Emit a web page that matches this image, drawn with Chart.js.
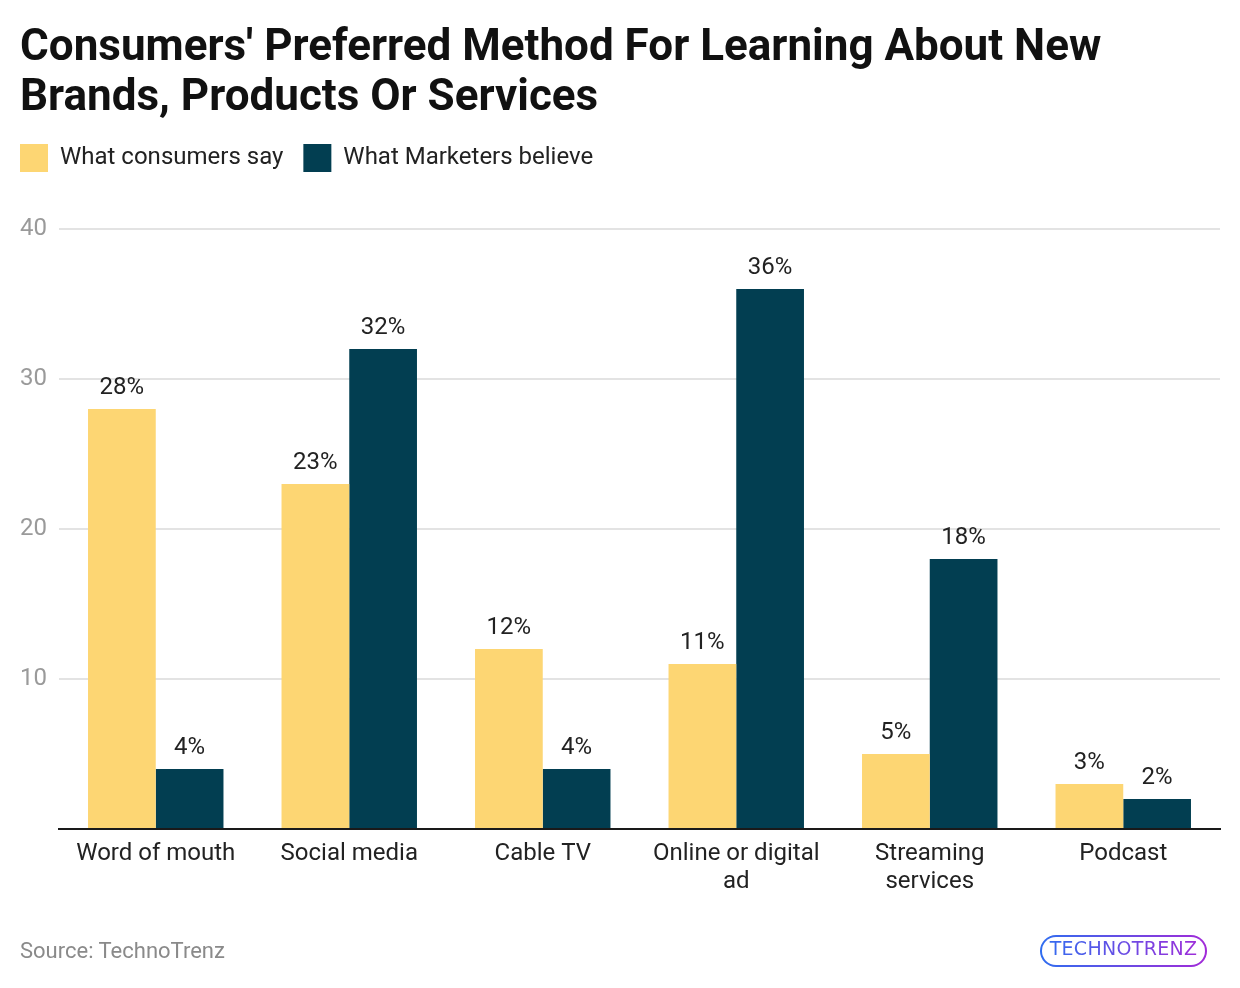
<!DOCTYPE html>
<html>
<head>
<meta charset="utf-8">
<script src="https://cdn.jsdelivr.net/npm/chart.js@4/dist/chart.umd.min.js"></script>
<style>
  html, body { margin: 0; padding: 0; background: #fff; }
  #wrap { position: relative; width: 1240px; height: 988px; }
  #source { position: absolute; left: 20px; top: 938px; font: 22px Roboto, sans-serif; color: #8a8a8a; }
  #logo { position: absolute; left: 1040px; top: 935px; width: 167px; height: 32px; border-radius: 16px;
          border: 2px solid transparent; box-sizing: border-box;
          background: linear-gradient(#fff, #fff) padding-box, linear-gradient(90deg, #2f6df0, #a22ad8) border-box; }
  #logo span { display: block; width: 100%; text-align: center; line-height: 28px;
          font: 500 19px "DejaVu Sans", sans-serif; letter-spacing: 0.3px;
          background: linear-gradient(90deg, #2f6df0, #a22ad8); -webkit-background-clip: text; background-clip: text; color: transparent; }
</style>
</head>
<body>
<div id="wrap">
  <canvas id="c" width="1240" height="988"></canvas>
  <div id="source">Source: TechnoTrenz</div>
  <div id="logo"><span>TECHNOTRENZ</span></div>
</div>
<script>
const categories = ["Word of mouth", "Social media", "Cable TV", ["Online or digital", "ad"], ["Streaming", "services"], "Podcast"];
const consumersSay = [28, 23, 12, 11, 5, 3];
const marketersBelieve = [4, 32, 4, 36, 18, 2];
const yTicks = [0, 10, 20, 30, 40];
const seriesNames = ["What consumers say", "What Marketers believe"];
const titleLines = ["Consumers' Preferred Method For Learning About New", "Brands, Products Or Services"];

const valueLabels = {
  id: 'valueLabels',
  afterDatasetsDraw(chart) {
    const ctx = chart.ctx;
    ctx.save();
    ctx.font = '24px Roboto, sans-serif';
    ctx.fillStyle = '#222';
    ctx.textAlign = 'center';
    ctx.textBaseline = 'alphabetic';
    chart.data.datasets.forEach((ds, i) => {
      chart.getDatasetMeta(i).data.forEach((bar, j) => {
        ctx.fillText(ds.data[j] + '%', bar.x, bar.y - 15);
      });
    });
    ctx.restore();
  }
};

const legendSpacing = {
  id: 'legendSpacing',
  beforeInit(chart) {
    const orig = chart.legend.fit;
    chart.legend.fit = function () {
      orig.bind(chart.legend)();
      this.height += 47;
    };
  },
  beforeDraw(chart) {
    const lg = chart.legend;
    if (!lg._shifted) {
      lg.left -= 20; lg.right -= 20; lg._shifted = true;
    }
  }
};

new Chart(document.getElementById('c'), {
  type: 'bar',
  data: {
    labels: categories,
    datasets: [
      { label: seriesNames[0], data: consumersSay, backgroundColor: '#fdd673', categoryPercentage: 0.7, barPercentage: 1.0 },
      { label: seriesNames[1], data: marketersBelieve, backgroundColor: '#023e51', categoryPercentage: 0.7, barPercentage: 1.0 }
    ]
  },
  options: {
    responsive: false,
    animation: false,
    layout: { padding: { left: 20, right: 20, top: 24, bottom: 89 } },
    plugins: {
      title: {
        display: true, text: titleLines, align: 'start', color: '#111',
        font: { family: 'Roboto', weight: 'bold', size: 44, lineHeight: 50 / 44 },
        padding: { top: 0, bottom: 0 }
      },
      legend: {
        display: true, align: 'start',
        labels: { boxWidth: 28, boxHeight: 28, color: '#222', padding: 20,
                  font: { family: 'Roboto', size: 24 } }
      },
      tooltip: { enabled: false }
    },
    scales: {
      x: {
        grid: { display: false },
        border: { color: '#1a1a1a', width: 2 },
        ticks: { color: '#222', font: { family: 'Roboto', size: 24, lineHeight: 28 / 24 }, padding: 3, maxRotation: 0, autoSkip: false }
      },
      y: {
        min: 0, max: 40,
        afterBuildTicks(scale) { scale.ticks = yTicks.map(v => ({ value: v })); },
        afterFit(scale) { scale.width = 39; },
        grid: { color: '#e3e3e3', lineWidth: 2, drawTicks: false },
        border: { display: false },
        ticks: { color: '#9a9a9a', padding: 12, font: { family: 'Roboto', size: 24 },
                 callback: v => v === 0 ? '' : v }
      }
    }
  },
  plugins: [valueLabels, legendSpacing]
});
</script>
</body>
</html>
